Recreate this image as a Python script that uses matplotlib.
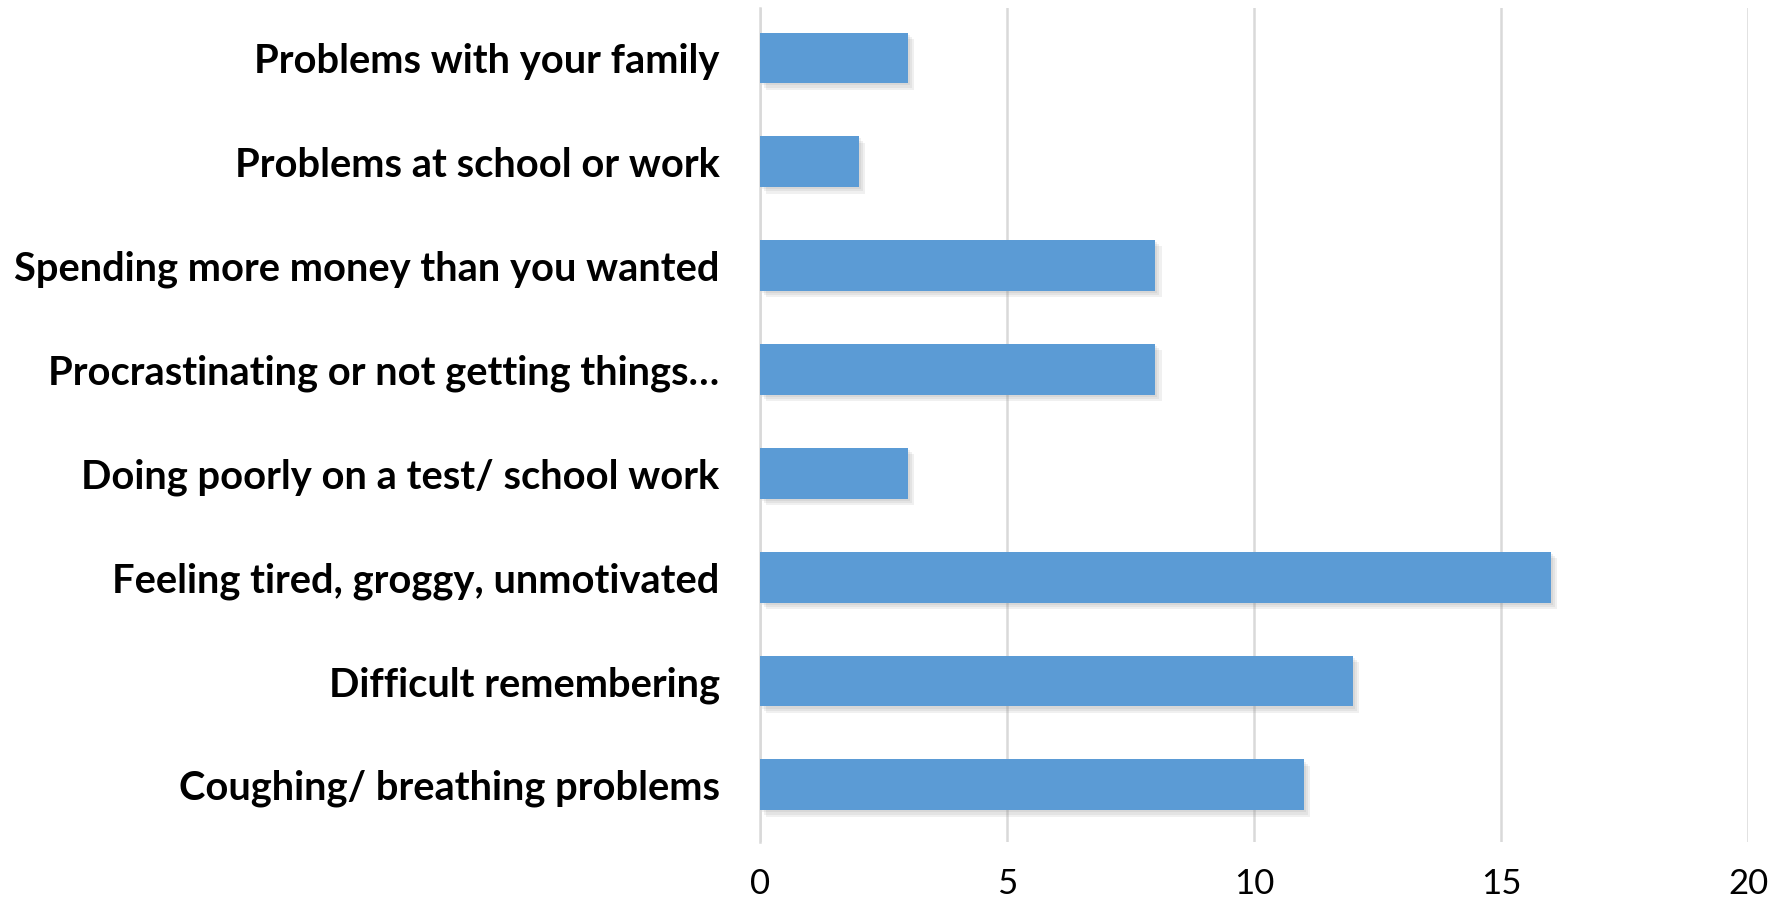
import numpy as np
import matplotlib
matplotlib.use("Agg")
import matplotlib.pyplot as plt
import matplotlib.patheffects as pe

categories = [
    "Problems with your family",
    "Problems at school or work",
    "Spending more money than you wanted",
    "Procrastinating or not getting things…",
    "Doing poorly on a test/ school work",
    "Feeling tired, groggy, unmotivated",
    "Difficult remembering",
    "Coughing/ breathing problems",
]
counts = [3, 2, 8, 8, 3, 16, 12, 11]
xticks = [0, 5, 10, 15, 20]

plt.rcParams['font.family'] = ['Lato', 'DejaVu Sans']

fig = plt.figure(figsize=(17.84, 9.02), dpi=100)
ax = fig.add_axes([0.426, 0.0665, 0.554, 0.9245])

y = np.arange(len(categories))
bars = ax.barh(y, counts, height=0.49, color='#5b9bd5', zorder=3)
# soft-ish drop shadow, stacked offsets
shadow = [pe.SimplePatchShadow(offset=(o, -o), shadow_rgbFace='#888888', alpha=0.12)
          for o in (1.5, 3, 4.5)]
for b in bars:
    b.set_path_effects(shadow + [pe.Normal()])

ax.set_xlim(0, 20)
ax.set_ylim(7.55, -0.48)
ax.set_xticks(xticks)
ax.set_xticklabels([str(t) for t in xticks], fontsize=25)
ax.set_yticks(y)
ax.set_yticklabels(categories, fontsize=28.7, fontweight='bold')
ax.tick_params(axis='x', length=0, pad=19)
ax.tick_params(axis='y', length=0, pad=29)

ax.grid(axis='x', color='#d9d9d9', linewidth=1.8, zorder=0)
for s in ['top', 'right', 'bottom']:
    ax.spines[s].set_visible(False)
ax.spines['left'].set_color('#d9d9d9')
ax.spines['left'].set_linewidth(1.8)

fig.savefig('out.png', dpi=100)
